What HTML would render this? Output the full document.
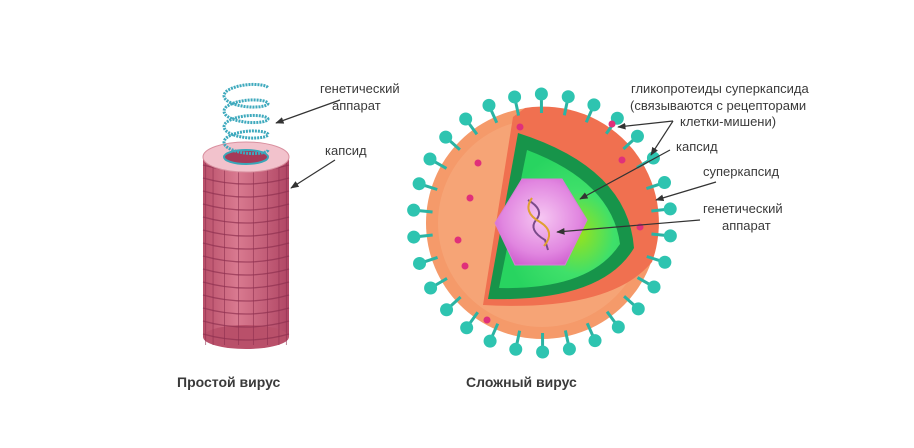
<!DOCTYPE html>
<html><head><meta charset="utf-8"><style>
html,body{margin:0;padding:0;background:#fff;}
svg{display:block}
text{font-family:"Liberation Sans",sans-serif;fill:#3a3a3a;}
</style></head><body>
<svg id="s" width="914" height="448" viewBox="0 0 914 448" xmlns="http://www.w3.org/2000/svg">
<defs>
<radialGradient id="lg" cx="0.65" cy="0.6" r="0.6"><stop offset="0" stop-color="#9be21a"/><stop offset="0.5" stop-color="#3fe06a"/><stop offset="1" stop-color="#28d460"/></radialGradient>
<radialGradient id="hx" cx="0.5" cy="0.45" r="0.6"><stop offset="0" stop-color="#f6c6f2"/><stop offset="0.7" stop-color="#e186e0"/><stop offset="1" stop-color="#cf5fcf"/></radialGradient>
<linearGradient id="cyl" x1="0" x2="1"><stop offset="0" stop-color="#b9506a"/><stop offset="0.4" stop-color="#d97a90"/><stop offset="1" stop-color="#b04664"/></linearGradient>
<marker id="ar" viewBox="0 0 10 10" refX="9" refY="5" markerWidth="7" markerHeight="7" orient="auto"><path d="M0,1 L10,5 L0,9 Z" fill="#333"/></marker>
</defs>
<g id="cylg">
<rect x="203" y="157" width="86" height="180" fill="url(#cyl)"/>
<ellipse cx="246" cy="337" rx="43" ry="12" fill="#b9506a"/>
</g>
<ellipse cx="246" cy="157" rx="43" ry="15" fill="#f2c2cc" stroke="#d9909f"/>
<ellipse cx="246" cy="157" rx="22" ry="7" fill="#a63a58" stroke="#3aa6b8" stroke-width="2"/>
<path id="spiral" fill="none" stroke="#3ea9bd" stroke-width="3" stroke-dasharray="2 1"/>
<circle cx="542" cy="223" r="116" fill="#f59a6a"/>
<circle cx="542" cy="223" r="104" fill="#f8ad82" opacity="0.5"/>
<path d="M513,117 L483,305 Q610,312 652,262 A116,116 0 0 0 525,108 Z" fill="#f07050"/>
<path d="M518,133 L488,299 Q602,302 634,248 Q628,168 518,133 Z" fill="#17944a"/>
<path d="M527,150 L499,288 Q590,290 620,244 Q612,182 527,150 Z" fill="url(#lg)"/>
<polygon points="522,179 562,179 587,220 565,265 515,265 495,223" fill="url(#hx)" stroke="#d77fd5"/>
<path d="M528,200 Q545,210 536,220 Q528,230 545,240 L548,250" fill="none" stroke="#7a4a8a" stroke-width="2"/>
<path d="M532,198 Q522,212 540,222 Q556,232 544,246" fill="none" stroke="#e0a030" stroke-width="2"/>
<g id="spikes"></g>
<g stroke="#333" stroke-width="1.2" fill="none" marker-end="url(#ar)">
<line x1="340" y1="100" x2="276" y2="123"/>
<line x1="335" y1="160" x2="291" y2="188"/>
<line x1="673" y1="121" x2="618" y2="127"/>
<line x1="673" y1="121" x2="651" y2="155"/>
<line x1="670" y1="150" x2="580" y2="199"/>
<line x1="716" y1="182" x2="656" y2="200"/>
<line x1="700" y1="220" x2="557" y2="232"/>
</g>
<g font-size="13">
<text x="320" y="93">генетический</text>
<text x="332" y="110">аппарат</text>
<text x="325" y="155">капсид</text>
<text x="631" y="93">гликопротеиды суперкапсида</text>
<text x="630" y="110">(связываются с рецепторами</text>
<text x="680" y="126">клетки-мишени)</text>
<text x="676" y="151">капсид</text>
<text x="703" y="176">суперкапсид</text>
<text x="703" y="213">генетический</text>
<text x="722" y="230">аппарат</text>
</g>
<g font-size="14" font-weight="bold">
<text x="177" y="387">Простой вирус</text>
<text x="466" y="387">Сложный вирус</text>
</g>
</svg>
<script>
var ns="http://www.w3.org/2000/svg",s=document.getElementById('s');
function el(n,a,p){var e=document.createElementNS(ns,n);for(var k in a)e.setAttribute(k,a[k]);(p||s).appendChild(e);return e;}
var cg=document.getElementById('cylg');
for(var y=165;y<340;y+=13)el('path',{d:'M203,'+y+' Q246,'+(y+12)+' 289,'+y,stroke:'#8e3050','stroke-width':1.3,fill:'none',opacity:0.7},cg);
for(var i=1;i<9;i++){var x=203+86*(1-Math.cos(Math.PI*i/9))/2;el('line',{x1:x,y1:160,x2:x,y2:345,stroke:'#8e3050','stroke-width':1,opacity:0.6},cg);}
var d='';for(var t=0;t<=1;t+=0.005){var a=t*Math.PI*2*4;var x=246+22*Math.cos(a),y=150-62*t+7*Math.sin(a);d+=(t?'L':'M')+x.toFixed(1)+','+y.toFixed(1);}
document.getElementById('spiral').setAttribute('d',d);
var g=document.getElementById('spikes');
for(var k=0;k<30;k++){var a=k/30*Math.PI*2+0.1;var c=Math.cos(a),sn=Math.sin(a);
el('line',{x1:542+110*c,y1:223+110*sn,x2:542+125*c,y2:223+125*sn,stroke:'#2bb3a3','stroke-width':3},g);
el('circle',{cx:542+129*c,cy:223+129*sn,r:6.5,fill:'#2ec4b0'},g);}
var pk=[[520,127],[478,163],[470,198],[458,240],[465,266],[487,320],[640,227],[622,160],[612,124]];
pk.forEach(function(p){el('circle',{cx:p[0],cy:p[1],r:3.5,fill:'#e0307a'},g);});
</script>
</body></html>
